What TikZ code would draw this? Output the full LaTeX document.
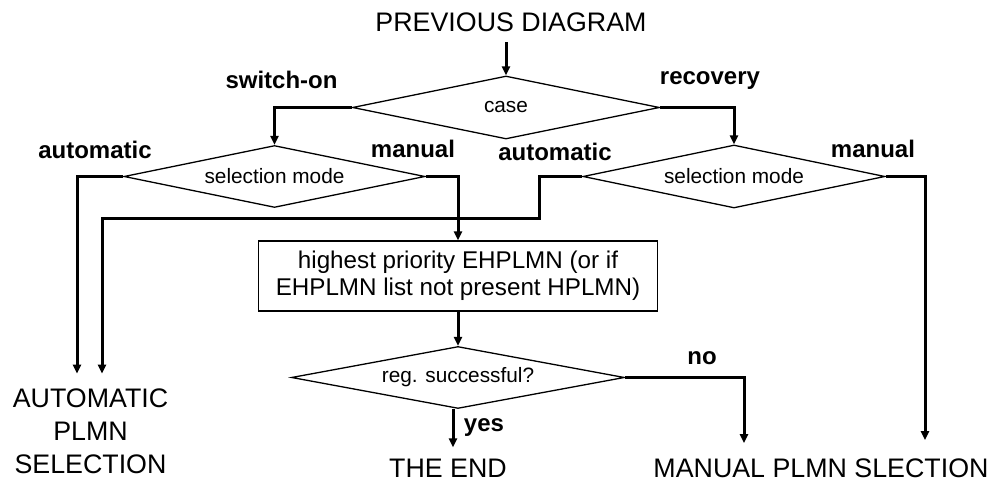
\documentclass[tikz,border=0pt]{standalone}
\usepackage{fontspec}
\setmainfont{Liberation Sans}
\usetikzlibrary{shapes.geometric, arrows.meta}
\begin{document}
\begin{tikzpicture}[x=0.5pt, y=-0.5pt, line join=miter, >={Triangle[width=4pt, length=4.5pt]},
	big/.style={font=\fontsize{13.4}{16.5}\selectfont, inner sep=0pt},
	lbl/.style={font=\fontsize{12}{14}\selectfont\bfseries, inner sep=0pt},
	dec/.style={draw, diamond, aspect=4.9, line width=0.65pt, inner sep=0pt, font=\fontsize{10.4}{12}\selectfont},
	flow/.style={->, line width=1.5pt}]
	\useasboundingbox (0,0) rectangle (993,480);
	% texts
	\node[big] (prev) at (511,22.5) {PREVIOUS DIAGRAM};
	\node[big, align=center] (autoT) at (90.5,431.5) {AUTOMATIC\\PLMN\\SELECTION};
	\node[big] (endT) at (448,468) {THE END};
	\node[big] (manT) at (821,468) {MANUAL PLMN SLECTION};
	% decisions and box
	\node[dec, minimum width=153.5pt, minimum height=31.5pt] (case) at (506,107.5) {case};
	\node[dec, minimum width=150.5pt, minimum height=31pt] (selL) at (274.5,176.5) {selection mode};
	\node[dec, minimum width=151pt, minimum height=31.5pt] (selR) at (734,176.5) {selection mode};
	\node[draw, line width=0.65pt, minimum width=199.5pt, minimum height=35pt, align=center,
		font=\fontsize{12.1}{13.5}\selectfont] (box) at (458,276) {highest priority EHPLMN (or if\\EHPLMN list not present HPLMN)};
	\node[dec, minimum width=166.5pt, minimum height=31pt] (reg) at (458,377.5) {reg. successful?};
	% labels
	\node[lbl] (lSw) at (281.5,80) {switch-on};
	\node[lbl] (lRe) at (710,81) {recovery};
	\node[lbl] (lAuL) at (95,150) {automatic};
	\node[lbl] (lMaL) at (413,149) {manual};
	\node[lbl] (lAuR) at (555,152) {automatic};
	\node[lbl] (lMaR) at (873,149) {manual};
	\node[lbl] (lNo) at (702,358) {no};
	\node[lbl] (lYes) at (484,428) {yes};
	% arrow ends
	\coordinate (inA) at ([shift={(-13.5,-15)}]autoT.north);
	\coordinate (inB) at ([shift={(11.5,-15)}]autoT.north);
	\coordinate (inN) at ([shift={(-77,-15)}]manT.north);
	\coordinate (inM) at ([shift={(104,-18)}]manT.north);
	\coordinate (inE) at ([shift={(5,-11)}]endT.north);
	% connectors
	\draw[flow] (prev.south -| case.north) ++(0,10) -- (case.north);
	\draw[flow] (case.west) -| (selL.north);
	\draw[flow] (case.east) -| (selR.north);
	\draw[flow] (selL.west) -| (inA);
	\draw[flow] (selL.east) -| (box.north);
	\draw[flow] (selR.west) -- ++(-43,0) -- ++(0,42.5) -| (inB);
	\draw[flow] (selR.east) -| (inM);
	\draw[flow] (box.south) -- (reg.north);
	\draw[flow] (reg.south -| inE) -- (inE);
	\draw[flow] (reg.east) -| (inN);
\end{tikzpicture}
\end{document}
